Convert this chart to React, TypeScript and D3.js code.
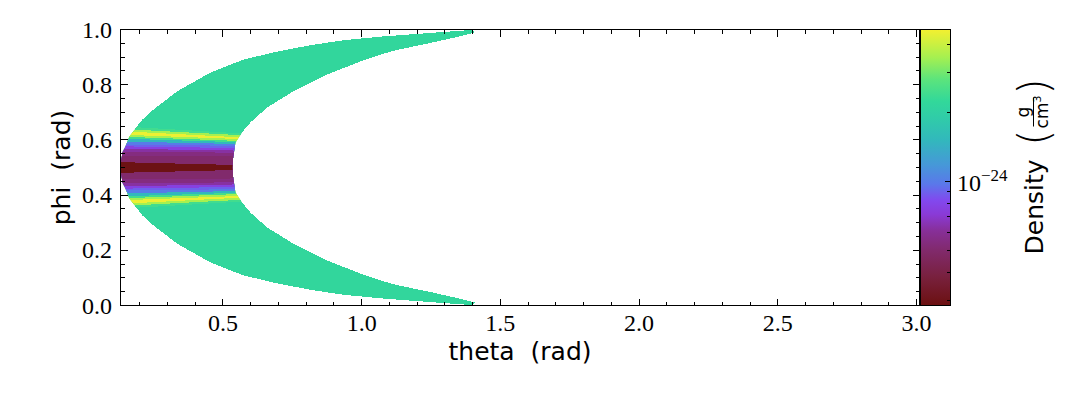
import * as d3 from 'd3';

// colormap: position along the bar (0 = bottom) -> colour
const cmapPos = [0, 0.1, 0.2, 0.27, 0.33, 0.38, 0.44, 0.51, 0.6, 0.68, 0.74, 0.82, 0.9, 1];
const cmapColors = [
  '#6b1010', '#78203c', '#812a6c', '#872f98', '#8a3ad6', '#8248ee', '#5a78ea',
  '#4698d8', '#32b8bc', '#30cca8', '#32d89a', '#5ce47c', '#a6f050', '#f4f030',
];

const densityMin = 2.86e-25;
const densityMax = 4.64e-24;
const cbarMajor = [1e-24];

// axis extents (rad)
const thetaMin = 0.1309;
const thetaMax = 3.0107;
const phiMin = 0;
const phiMax = 1;

const xMajor = [0.5, 1.0, 1.5, 2.0, 2.5, 3.0];
const yMajor = [0.0, 0.2, 0.4, 0.6, 0.8, 1.0];

// crescent outline, upper half; the lower half mirrors it about phi = 0.5
const outerTheta = [0.1309, 0.1345, 0.138, 0.149, 0.163, 0.174, 0.196, 0.21, 0.25, 0.335, 0.455, 0.574, 0.696, 0.815, 0.934, 1.067, 1.186, 1.308, 1.379, 1.395, 1.41];
const outerPhi = [0.522, 0.529, 0.554, 0.576, 0.612, 0.627, 0.656, 0.674, 0.71, 0.776, 0.844, 0.891, 0.92, 0.943, 0.961, 0.974, 0.983, 0.992, 0.997, 0.997, 0.99];
const innerTheta = [0.534, 0.536, 0.545, 0.569, 0.599, 0.659, 0.754, 0.876, 0.995, 1.067, 1.127, 1.247, 1.366, 1.41];
const innerPhi = [0.5, 0.529, 0.591, 0.627, 0.663, 0.717, 0.776, 0.837, 0.884, 0.909, 0.926, 0.951, 0.978, 0.99];
const ambientDensity = 2.19e-24;

// horizontal density bands around phi = 0.5, outermost first.
// half widths (in phi) measured at two theta positions
const bandAnchorTheta = [0.185, 0.509];
const bandHalfLeft = [0.146, 0.137, 0.129, 0.117, 0.11, 0.103, 0.093, 0.083, 0.076, 0.067, 0.057, 0.042, 0.018];
const bandHalfRight = [0.127, 0.12, 0.112, 0.105, 0.098, 0.093, 0.086, 0.079, 0.071, 0.062, 0.054, 0.04, 0.01];
const bandDensity = [2.44e-24, 3.51e-24, 4.52e-24, 3.51e-24, 2.44e-24, 1.52e-24, 1.0e-24, 8.97e-25, 7.59e-25, 6.24e-25, 5.43e-25, 4.99e-25, 2.94e-25];

const SERIF = 'Liberation Serif, Times New Roman, serif';
const SANS = 'DejaVu Sans, sans-serif';

export default function App() {
  const width = 1085;
  const height = 396;
  const plot = { left: 120.5, right: 919.5, top: 29.5, bottom: 305.5 };
  const cb = { left: 920.5, right: 950.5 };

  const xs = d3.scaleLinear().domain([thetaMin, thetaMax]).range([plot.left, plot.right]);
  const ys = d3.scaleLinear().domain([phiMin, phiMax]).range([plot.bottom, plot.top]);

  const logNorm = d3.scaleLog().domain([densityMin, densityMax]).range([0, 1]).clamp(true);
  const cmap = d3.scaleLinear<string>().domain(cmapPos).range(cmapColors).interpolate(d3.interpolateRgb);
  const colour = (d: number) => cmap(logNorm(d));
  const cbScale = d3.scaleLog().domain([densityMin, densityMax]).range([plot.bottom, plot.top]);

  const line = d3.line<[number, number]>().x((p) => xs(p[0])).y((p) => ys(p[1]));

  // crescent polygon
  const upperOuter: [number, number][] = outerTheta.map((t, i) => [t, outerPhi[i]]);
  const upperInner: [number, number][] = innerTheta.map((t, i) => [t, innerPhi[i]]);
  const lowerInner: [number, number][] = upperInner.map(([t, p]) => [t, 1 - p]);
  const lowerOuter: [number, number][] = upperOuter.map(([t, p]) => [t, 1 - p]);
  const crescent: [number, number][] = [
    ...upperOuter,
    ...upperInner.slice().reverse(),
    ...lowerInner.slice(1),
    ...lowerOuter.slice().reverse(),
  ];
  const crescentD = line(crescent) + 'Z';

  const bandT0 = thetaMin - 0.05;
  const bandT1 = 0.75;
  const bands = bandDensity.map((dens, i) => {
    const half = d3.scaleLinear().domain(bandAnchorTheta).range([bandHalfLeft[i], bandHalfRight[i]]);
    const pts: [number, number][] = [
      [bandT0, 0.5 + half(bandT0)],
      [bandT1, 0.5 + half(bandT1)],
      [bandT1, 0.5 - half(bandT1)],
      [bandT0, 0.5 - half(bandT0)],
    ];
    return { d: line(pts) + 'Z', fill: colour(dens) };
  });

  const xMinor = xs.ticks(30).filter((t) => !xMajor.some((m) => Math.abs(m - t) < 1e-6));
  const yMinor = ys.ticks(20).filter((t) => !yMajor.some((m) => Math.abs(m - t) < 1e-6));
  const cbMinor = cbScale.ticks().filter((t) => !cbarMajor.some((m) => Math.abs(m - t) / m < 1e-6));

  const majLen = 7;
  const minLen = 4;

  return (
    <svg
      width={width}
      height={height}
      style={{ position: 'absolute', left: 0, top: 0, display: 'block', background: '#fff' }}
    >
      <defs>
        <clipPath id="plot-area">
          <rect x={plot.left} y={plot.top} width={plot.right - plot.left} height={plot.bottom - plot.top} />
        </clipPath>
        <clipPath id="crescent-clip">
          <path d={crescentD} />
        </clipPath>
        <linearGradient id="cbar-grad" x1="0" y1="1" x2="0" y2="0">
          {cmapPos.map((p, i) => (
            <stop key={i} offset={p} stopColor={cmapColors[i]} />
          ))}
        </linearGradient>
      </defs>

      {/* image */}
      <g clipPath="url(#plot-area)" shapeRendering="crispEdges">
        <path d={crescentD} fill={colour(ambientDensity)} />
        <g clipPath="url(#crescent-clip)">
          {bands.map((b, i) => (
            <path key={i} d={b.d} fill={b.fill} />
          ))}
        </g>
      </g>

      {/* ticks, all four sides pointing in */}
      <g stroke="#000" strokeWidth={1} shapeRendering="crispEdges">
        {xMajor.map((t) => (
          <g key={'xM' + t}>
            <line x1={xs(t)} x2={xs(t)} y1={plot.bottom} y2={plot.bottom - majLen} />
            <line x1={xs(t)} x2={xs(t)} y1={plot.top} y2={plot.top + majLen} />
          </g>
        ))}
        {xMinor.map((t) => (
          <g key={'xm' + t}>
            <line x1={xs(t)} x2={xs(t)} y1={plot.bottom} y2={plot.bottom - minLen} />
            <line x1={xs(t)} x2={xs(t)} y1={plot.top} y2={plot.top + minLen} />
          </g>
        ))}
        {yMajor.map((t) => (
          <g key={'yM' + t}>
            <line x1={plot.left} x2={plot.left + majLen} y1={ys(t)} y2={ys(t)} />
            <line x1={plot.right} x2={plot.right - majLen} y1={ys(t)} y2={ys(t)} />
          </g>
        ))}
        {yMinor.map((t) => (
          <g key={'ym' + t}>
            <line x1={plot.left} x2={plot.left + minLen} y1={ys(t)} y2={ys(t)} />
            <line x1={plot.right} x2={plot.right - minLen} y1={ys(t)} y2={ys(t)} />
          </g>
        ))}
        <rect
          x={plot.left}
          y={plot.top}
          width={plot.right - plot.left}
          height={plot.bottom - plot.top}
          fill="none"
          stroke="#000"
        />
      </g>

      {/* tick labels */}
      <g fontFamily={SERIF} fontSize={24} fill="#000">
        {xMajor.map((t) => (
          <text key={'xl' + t} x={xs(t)} y={331} textAnchor="middle">
            {t.toFixed(1)}
          </text>
        ))}
        {yMajor.map((t) => (
          <text key={'yl' + t} x={112} y={ys(t) + 8} textAnchor="end">
            {t.toFixed(1)}
          </text>
        ))}
      </g>

      {/* axis titles */}
      <text x={(plot.left + plot.right) / 2} y={360} textAnchor="middle" fontFamily={SANS} fontSize={25} style={{ whiteSpace: 'pre' }}>
        {'theta  (rad)'}
      </text>
      <text
        transform={`translate(70,${(plot.top + plot.bottom) / 2}) rotate(-90)`}
        textAnchor="middle"
        fontFamily={SANS}
        fontSize={25}
        style={{ whiteSpace: 'pre' }}
      >
        {'phi  (rad)'}
      </text>

      {/* colorbar */}
      <rect
        x={cb.left}
        y={plot.top}
        width={cb.right - cb.left}
        height={plot.bottom - plot.top}
        fill="url(#cbar-grad)"
      />
      <g stroke="#000" strokeWidth={1} shapeRendering="crispEdges">
        {cbarMajor.map((t) => (
          <line key={'cM' + t} x1={cb.right} x2={cb.right - 6} y1={cbScale(t)} y2={cbScale(t)} />
        ))}
        {cbMinor.map((t) => (
          <line key={'cm' + t} x1={cb.right} x2={cb.right - 4} y1={cbScale(t)} y2={cbScale(t)} />
        ))}
        <rect x={cb.left} y={plot.top} width={cb.right - cb.left} height={plot.bottom - plot.top} fill="none" />
      </g>
      {cbarMajor.map((t) => (
        <text key={'cl' + t} x={957} y={cbScale(t) + 9} fontFamily={SERIF} fontSize={24}>
          <tspan>10</tspan>
          <tspan dy={-10} fontSize={17}>
            {'\u2212' + String(Math.round(-Math.log10(t)))}
          </tspan>
        </text>
      ))}

      {/* colorbar title: Density (g / cm^3) */}
      <g transform={`translate(1043,${(plot.top + plot.bottom) / 2}) rotate(-90)`} fontFamily={SANS} fill="#000">
        <text x={-87} y={0} fontSize={25}>
          Density
        </text>
        <text x={30} y={6.4} fontSize={42} fontWeight={300} textAnchor="middle">
          (
        </text>
        <text x={55.5} y={-14} fontSize={17} textAnchor="middle">
          g
        </text>
        <line x1={41} x2={70} y1={-9.5} y2={-9.5} stroke="#000" strokeWidth={1} />
        <text x={55.5} y={5} fontSize={17} textAnchor="middle">
          cm<tspan dy={-7} fontSize={11}>3</tspan>
        </text>
        <text x={81} y={6.4} fontSize={42} fontWeight={300} textAnchor="middle">
          )
        </text>
      </g>
    </svg>
  );
}
